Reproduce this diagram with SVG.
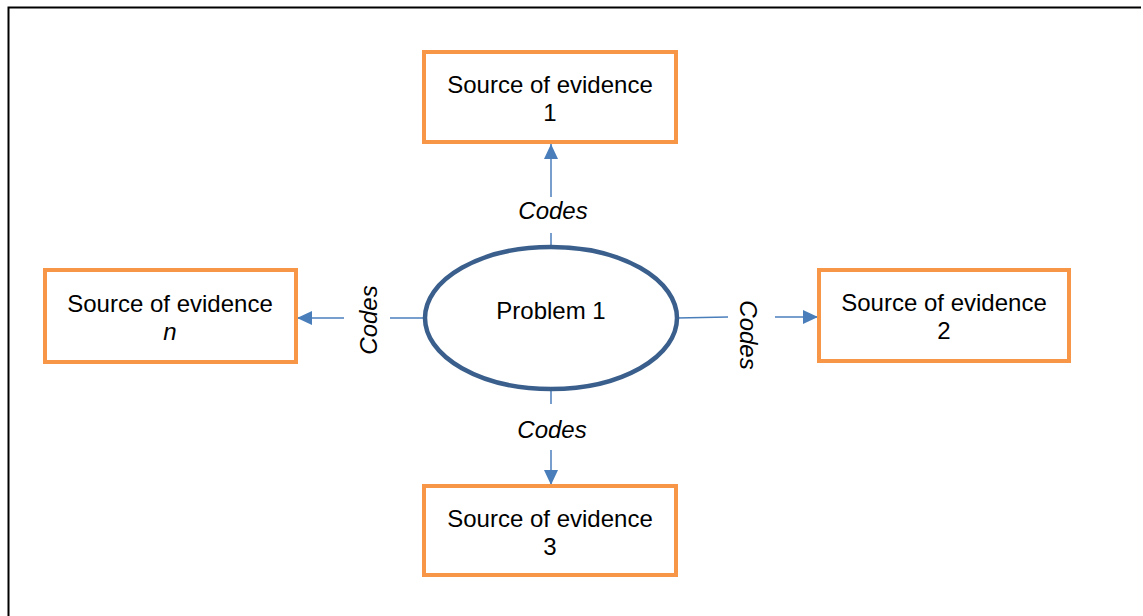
<svg xmlns="http://www.w3.org/2000/svg" width="1143" height="616" viewBox="0 0 1143 616">
  <style>
    .box { fill: #ffffff; stroke: #F79646; stroke-width: 4; }
    .hub { fill: #ffffff; stroke: #3A5F8C; stroke-width: 4.5; }
    .txt { font-family: "Liberation Sans", Arial, sans-serif; font-size: 24px; fill: #000000; text-anchor: middle; }
    .lbl { font-family: "Liberation Sans", Arial, sans-serif; font-size: 24px; font-style: italic; fill: #000000; text-anchor: middle; }
    .conn { stroke: #4A7EBB; stroke-width: 1.5; fill: none; }
  </style>
  <defs>
    <marker id="arrow" viewBox="0 0 15 14" refX="15" refY="7" markerWidth="15" markerHeight="14" markerUnits="userSpaceOnUse" orient="auto">
      <path d="M0,0 L15,7 L0,14 Z" fill="#4A7EBB"/>
    </marker>
  </defs>

  <rect width="1143" height="616" fill="#ffffff"/>
  <!-- outer frame -->
  <path d="M8.5,630 V7.5 H1141" fill="none" stroke="#000000" stroke-width="2"/>

  <!-- connectors -->
  <g id="connectors">
    <line class="conn" x1="551" y1="247" x2="551" y2="233"/>
    <line class="conn" x1="551" y1="197" x2="551" y2="144" marker-end="url(#arrow)"/>
    <line class="conn" x1="551" y1="389" x2="551" y2="404"/>
    <line class="conn" x1="551" y1="450" x2="551" y2="485" marker-end="url(#arrow)"/>
    <line class="conn" x1="424" y1="318" x2="390" y2="318"/>
    <line class="conn" x1="344" y1="318" x2="297" y2="318" marker-end="url(#arrow)"/>
    <line class="conn" x1="677" y1="318" x2="728" y2="317"/>
    <line class="conn" x1="775" y1="317" x2="818" y2="317" marker-end="url(#arrow)"/>
    <text class="lbl" x="553" y="219">Codes</text>
    <text class="lbl" x="552" y="438">Codes</text>
    <text class="lbl" transform="translate(377,320) rotate(-90)">Codes</text>
    <text class="lbl" transform="translate(740,335) rotate(90)">Codes</text>
  </g>

  <g id="problem1">
    <ellipse class="hub" cx="551" cy="318" rx="126" ry="71"/>
    <text class="txt" x="551" y="319">Problem 1</text>
  </g>

  <g id="source1">
    <rect class="box" x="424" y="52" width="252" height="90"/>
    <text class="txt" x="550" y="93">Source of evidence</text>
    <text class="txt" x="550" y="121">1</text>
  </g>

  <g id="source2">
    <rect class="box" x="819" y="270" width="250" height="91"/>
    <text class="txt" x="944" y="311">Source of evidence</text>
    <text class="txt" x="944" y="339">2</text>
  </g>

  <g id="source3">
    <rect class="box" x="424" y="486" width="252" height="89"/>
    <text class="txt" x="550" y="527">Source of evidence</text>
    <text class="txt" x="550" y="555">3</text>
  </g>

  <g id="sourceN">
    <rect class="box" x="45" y="270" width="251" height="92"/>
    <text class="txt" x="170" y="312">Source of evidence</text>
    <text class="txt" x="170" y="340" font-style="italic">n</text>
  </g>
</svg>
